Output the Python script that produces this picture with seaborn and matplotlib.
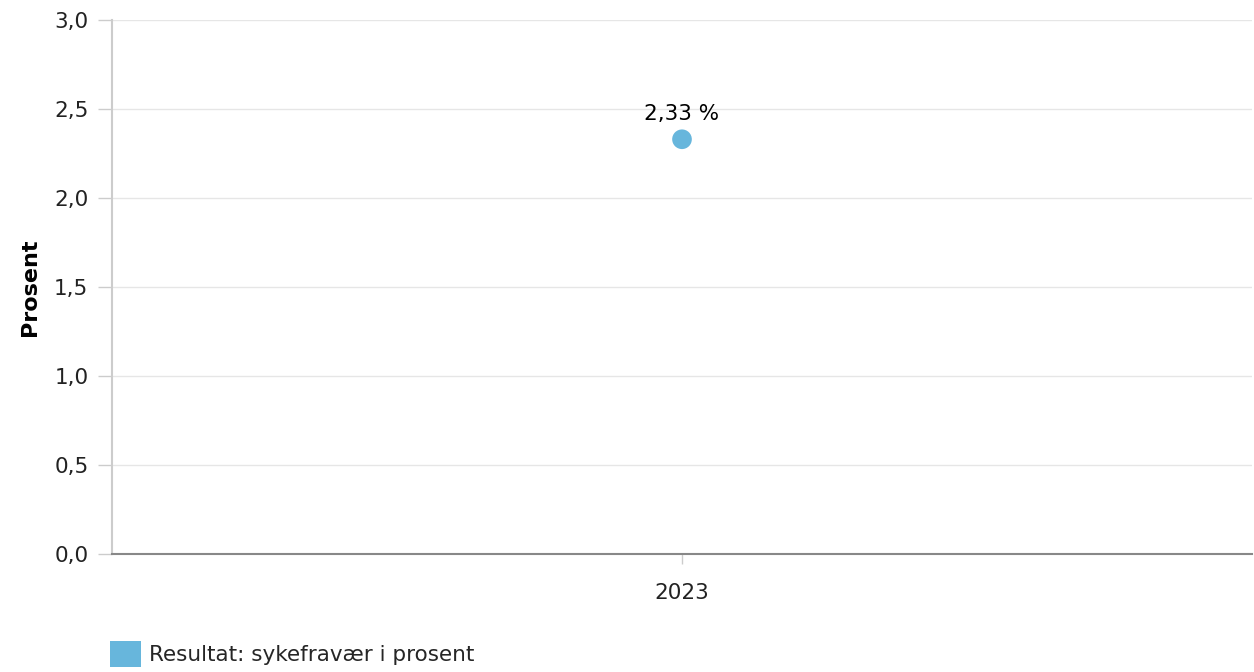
import matplotlib
matplotlib.use('Agg')
import matplotlib.pyplot as plt
from matplotlib.patches import Patch
from matplotlib.ticker import FuncFormatter
import seaborn as sns
import pandas as pd

# Data
years = ['2023']
values = [2.33]
series_name = 'Resultat: sykefravær i prosent'
color = '#67b6dc'

sns.set_theme(style='white')
plt.rcParams['font.family'] = ['DejaVu Sans']

df = pd.DataFrame({'År': years, 'Prosent': values})

fs = 15.5
fig = plt.figure(figsize=(12.54, 6.72), dpi=100)
ax = fig.add_axes([112 / 1254, 1 - 554 / 672, (1252 - 112) / 1254, (554 - 20) / 672])

sns.scatterplot(data=df, x='År', y='Prosent', ax=ax, color=color, s=200,
                edgecolor='none', zorder=3, legend=False)

ax.set_xlim(-0.5, 0.5)
ax.set_ylim(0, 3.0)
ax.set_yticks([0, 0.5, 1.0, 1.5, 2.0, 2.5, 3.0])
ax.yaxis.set_major_formatter(FuncFormatter(lambda v, p: f'{v:.1f}'.replace('.', ',')))
ax.grid(axis='y', color='#e6e6e6', linewidth=1)
ax.set_axisbelow(True)

for x, v in zip(years, values):
    ax.annotate(f'{v:.2f} %'.replace('.', ','), xy=(0, v), xytext=(0, 11),
                textcoords='offset points', ha='center', va='bottom',
                fontsize=fs, color='#000000')

for s in ['top', 'right']:
    ax.spines[s].set_visible(False)
ax.spines['left'].set_color('#cccccc')
ax.spines['left'].set_linewidth(1.5)
ax.spines['bottom'].set_color('#888888')
ax.spines['bottom'].set_linewidth(1.5)

ax.tick_params(axis='y', length=10, width=1, color='#cccccc', labelsize=fs,
               labelcolor='#222222', pad=7, left=True)
ax.tick_params(axis='x', length=7, width=1, color='#cccccc', labelsize=fs,
               labelcolor='#222222', pad=14, bottom=True, direction='out')

ax.set_xlabel('')
ax.set_ylabel('Prosent', fontsize=16, fontweight='bold', labelpad=10, color='#000000')

handle = Patch(facecolor=color, edgecolor='none')
fig.legend([handle], [series_name], loc='upper left',
           bbox_to_anchor=(110 / 1254, 1 - 641 / 672), borderaxespad=0, borderpad=0,
           frameon=False, fontsize=fs,
           handlelength=1.45, handleheight=1.45, handletextpad=0.35)

fig.savefig('out.png', dpi=100)
